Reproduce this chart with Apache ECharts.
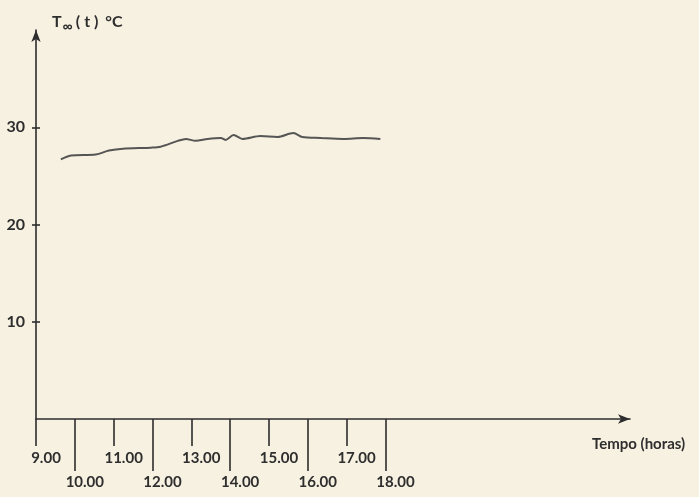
<!DOCTYPE html>
<html>
<head>
<meta charset="utf-8">
<script src="https://cdn.jsdelivr.net/npm/echarts@6/dist/echarts.min.js"></script>
<style>
html,body{margin:0;padding:0;background:#f7f1e1;}
#c{width:699px;height:497px;}
</style>
</head>
<body>
<div id="c"></div>
<script>
// Data
var hours = [9.64, 9.90, 10.54, 10.88, 11.24, 11.96, 12.21, 12.65, 12.86, 13.11, 13.42, 13.76, 13.88, 14.09, 14.32, 14.78, 15.22, 15.63, 15.86, 16.33, 16.92, 17.43, 17.87];
var temps = [26.7, 27.1, 27.2, 27.6, 27.8, 27.9, 28.0, 28.6, 28.8, 28.6, 28.8, 28.9, 28.7, 29.2, 28.8, 29.1, 29.0, 29.4, 29.0, 28.9, 28.8, 28.9, 28.8];
var oddTicks = [9, 11, 13, 15, 17];
var evenTicks = [10, 12, 14, 16, 18];
var yTicks = [10, 20, 30];
var xTitle = 'Tempo (horas)';

var ink = '#2e2e2e';
var font = 'Lato';

var points = hours.map(function (h, i) { return [h, temps[i]]; });

var chart = echarts.init(document.getElementById('c'), null, {renderer: 'canvas'});
var fmt = function (v) { return v.toFixed(2); };

chart.setOption({
  backgroundColor: '#f7f1e1',
  animation: false,
  title: [
    {
      text: '{t|T}{s|∞}{t|( t )}{c|°C}',
      left: 47, top: 5,
      textStyle: {
        rich: {
          t: {fontFamily: font, fontSize: 16, color: ink, fontWeight: 'bold', padding: [0, 1, 0, 0]},
          s: {fontFamily: font, fontSize: 14, color: ink, fontWeight: 'bold', verticalAlign: 'bottom', padding: [9, 3, 0, 0]},
          c: {fontFamily: font, fontSize: 16, color: ink, fontWeight: 'bold', padding: [0, 0, 0, 6]}
        }
      }
    },
    {
      text: xTitle,
      left: 587, top: 432,
      textStyle: {fontFamily: font, fontSize: 15, color: ink, fontWeight: 'bold'}
    }
  ],
  grid: {left: 36, right: 69, top: 30, bottom: 78},
  xAxis: [
    {
      type: 'value', min: 9, max: 24.3, position: 'bottom',
      splitLine: {show: false},
      axisLine: {show: true, lineStyle: {color: ink, width: 1.6}, symbol: ['none', 'arrow'], symbolSize: [7, 12]},
      axisTick: {show: true, customValues: oddTicks, length: 27, lineStyle: {color: ink, width: 1.6}},
      axisLabel: {show: true, customValues: oddTicks, formatter: fmt, margin: 32, padding: [0, 0, 0, 20],
        fontFamily: font, fontSize: 15, fontWeight: 'bold', color: ink}
    },
    {
      type: 'value', min: 9, max: 24.3, position: 'bottom', offset: 0,
      splitLine: {show: false},
      axisLine: {show: false},
      axisTick: {show: true, customValues: evenTicks, length: 52, lineStyle: {color: ink, width: 1.6}},
      axisLabel: {show: true, customValues: evenTicks, formatter: fmt, margin: 56, padding: [0, 0, 0, 20],
        fontFamily: font, fontSize: 15, fontWeight: 'bold', color: ink}
    }
  ],
  yAxis: [
    {
      type: 'value', min: 0, max: 40, position: 'left',
      splitLine: {show: false},
      axisLine: {show: true, lineStyle: {color: ink, width: 1.6}, symbol: ['none', 'arrow'], symbolSize: [7, 12]},
      axisTick: {show: true, customValues: yTicks, length: 4, lineStyle: {color: ink, width: 1.6}},
      axisLabel: {show: true, customValues: yTicks, margin: 11, fontFamily: font, fontSize: 16, fontWeight: 'bold', color: ink}
    },
    {
      type: 'value', min: 0, max: 40, position: 'left', offset: 0,
      splitLine: {show: false},
      axisLine: {show: false},
      axisTick: {show: true, inside: true, customValues: yTicks, length: 4, lineStyle: {color: ink, width: 1.6}},
      axisLabel: {show: false}
    }
  ],
  series: [
    {
      type: 'line', xAxisIndex: 0, yAxisIndex: 0,
      data: points, smooth: 0.3, showSymbol: false,
      lineStyle: {color: '#555', width: 2}
    }
  ]
});
</script>
</body>
</html>
